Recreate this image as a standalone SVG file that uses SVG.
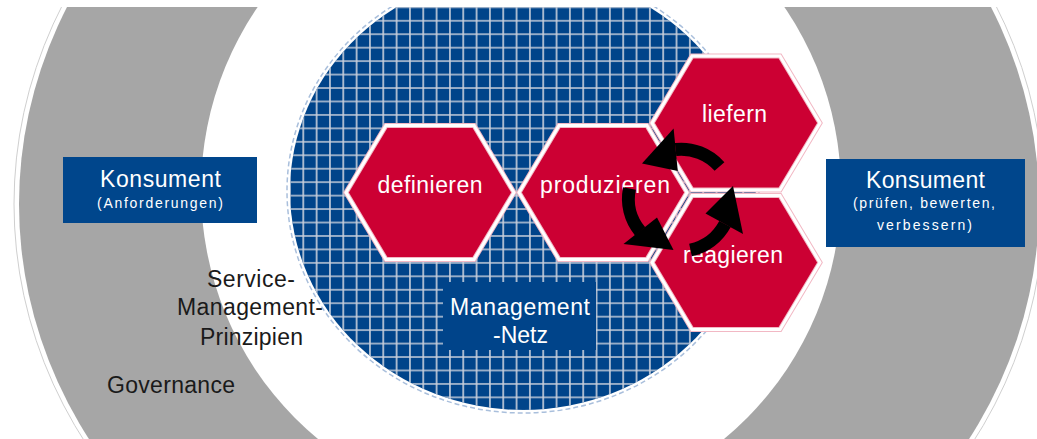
<svg xmlns="http://www.w3.org/2000/svg" width="1037" height="439" viewBox="0 0 1037 439">
<defs>
<style>
.ring{fill:#a6a6a6}
.ringline{fill:none;stroke:#cfcfcf;stroke-width:1}
.blue{fill:#00448a}
.box{fill:#00468c}
.hex{fill:#cc0033;stroke:#f2b8c4;stroke-width:5;stroke-linejoin:miter}
.hexin{fill:none;stroke:#ffffff;stroke-width:3;stroke-linejoin:miter}
.ht{font-family:"Liberation Sans",Arial,sans-serif;font-size:23px;fill:#ffffff;text-anchor:middle}
.kt{font-family:"Liberation Sans",Arial,sans-serif;font-size:23px;fill:#ffffff;text-anchor:middle}
.ks{font-family:"Liberation Sans",Arial,sans-serif;font-size:14px;fill:#ffffff;text-anchor:middle}
.lt{font-family:"Liberation Sans",Arial,sans-serif;font-size:23px;fill:#1a1a1a;text-anchor:middle}
.arc{fill:none;stroke:#000000;stroke-width:13}
.head{fill:#000000}
</style>
<pattern id="grid" patternUnits="userSpaceOnUse" x="283.3" y="0.6" width="13.33" height="13.45">
<path d="M6.665 0V13.45M0 6.725H13.33" stroke="#c9d0dc" stroke-width="1.6" fill="none"/>
</pattern>
<clipPath id="page"><rect x="0" y="7" width="1037" height="432"/></clipPath>
<polygon id="hexshape" points="-84,0 -44,-67 44,-67 84,0 44,67 -44,67"/>
</defs>
<rect width="1037" height="439" fill="#ffffff"/>
<g id="background" clip-path="url(#page)">
<g id="governance-ring">
<ellipse class="ringline" cx="529" cy="204" rx="515" ry="470"/>
<ellipse class="ring" cx="529" cy="204" rx="510" ry="465"/>
<ellipse fill="#ffffff" cx="521" cy="190" rx="320" ry="322"/>
</g>
<g id="management-net">
<ellipse fill="none" stroke="#a9bfdc" stroke-width="1.5" stroke-dasharray="5 3" cx="523" cy="191" rx="236" ry="222"/>
<ellipse class="blue" cx="523" cy="191" rx="233" ry="219"/>
<ellipse fill="url(#grid)" cx="523" cy="191" rx="233" ry="219"/>
</g>
</g>
<g id="management-netz-label">
<rect class="blue" x="443" y="282" width="153" height="68"/>
<text class="kt" x="520" y="315" textLength="140" lengthAdjust="spacing">Management</text>
<text class="kt" x="520.5" y="343" textLength="55" lengthAdjust="spacing">-Netz</text>
</g>
<g id="konsument-left">
<rect class="box" x="63" y="157" width="194" height="66"/>
<text class="kt" x="160.5" y="187" textLength="121" lengthAdjust="spacing">Konsument</text>
<text class="ks" x="160" y="208" textLength="126" lengthAdjust="spacing">(Anforderungen)</text>
</g>
<g id="konsument-right">
<rect class="box" x="826" y="159" width="199" height="88"/>
<text class="kt" x="925.5" y="188" textLength="119" lengthAdjust="spacing">Konsument</text>
<text class="ks" x="924" y="208" textLength="142" lengthAdjust="spacing">(prüfen, bewerten,</text>
<text class="ks" x="924.5" y="230" textLength="95" lengthAdjust="spacing">verbessern)</text>
</g>
<g id="service-management-prinzipien">
<text class="lt" x="251" y="287" textLength="88" lengthAdjust="spacing">Service-</text>
<text class="lt" x="250" y="315" textLength="146" lengthAdjust="spacing">Management-</text>
<text class="lt" x="251.5" y="345" textLength="103" lengthAdjust="spacing">Prinzipien</text>
</g>
<g id="governance">
<text class="lt" x="171" y="393" textLength="128" lengthAdjust="spacing">Governance</text>
</g>
<g id="definieren" transform="translate(430,192.5)">
<use href="#hexshape" class="hex"/>
<use href="#hexshape" class="hexin"/>
<text class="ht" x="0" y="0" textLength="105" lengthAdjust="spacing">definieren</text>
</g>
<g id="produzieren" transform="translate(603,192.5)">
<use href="#hexshape" class="hex"/>
<use href="#hexshape" class="hexin"/>
<text class="ht" x="2" y="0" textLength="130" lengthAdjust="spacing">produzieren</text>
</g>
<g id="liefern" transform="translate(736,123)">
<use href="#hexshape" class="hex"/>
<use href="#hexshape" class="hexin"/>
<text class="ht" x="-1.5" y="-1" textLength="65" lengthAdjust="spacing">liefern</text>
</g>
<g id="reagieren" transform="translate(736,262.5)">
<use href="#hexshape" class="hex"/>
<use href="#hexshape" class="hexin"/>
<text class="ht" x="-3" y="0.5" textLength="100" lengthAdjust="spacing">reagieren</text>
</g>
<g id="connectors">
<path class="arc" d="M719.5,166.5A51,51 0 0 0 675.6,149.5"/>
<polygon class="head" points="673.6,128.5 642.0,163.5 677.8,171.0"/>
<path class="arc" d="M629.5,188.5A51,51 0 0 0 640.2,231.5"/>
<polygon class="head" points="623.5,244.0 673.5,250.0 657.0,217.5"/>
<path class="arc" d="M690.5,250.0A51,51 0 0 0 725.0,224.0"/>
<polygon class="head" points="705.5,213.5 733.0,186.0 743.0,234.0"/>
</g>
</svg>
